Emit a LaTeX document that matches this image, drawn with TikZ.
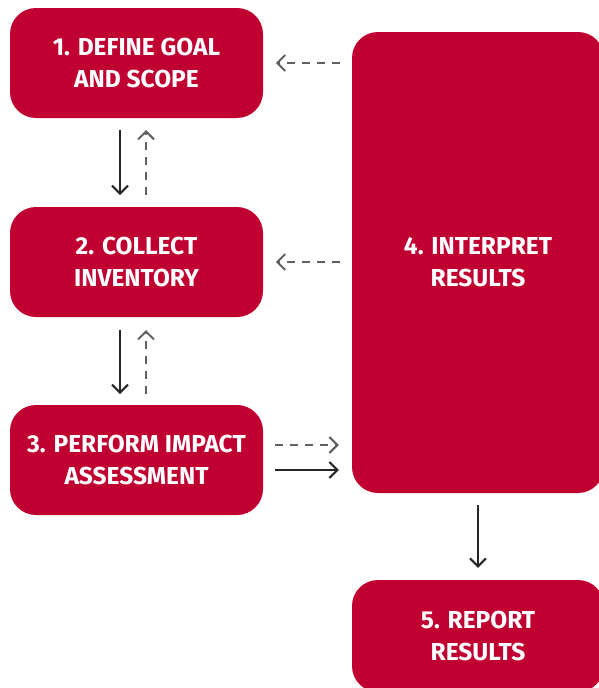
\documentclass[tikz,border=0pt]{standalone}
\usepackage{fontspec}
\setmainfont{Fira Sans}
\usetikzlibrary{arrows.meta}
\definecolor{boxred}{HTML}{C00030}
\definecolor{dashgray}{HTML}{606060}
\tikzset{
  box/.style={fill=boxred, rounded corners=26pt, text=white, align=center,
    font=\fontsize{24.5}{32}\selectfont\bfseries, inner sep=0pt},
  solidarr/.style={draw=black!85, line width=2pt, -{Straight Barb[length=8pt,width=16pt,line width=2pt]}},
  dasharr/.style={draw=dashgray, line width=2pt, dash pattern=on 8pt off 7pt, -{Straight Barb[length=8pt,width=16pt,line width=2pt]}},
}
\begin{document}
\begin{tikzpicture}[x=1pt,y=-1pt]
\useasboundingbox (0,0) rectangle (598,688);
\node[box, minimum width=253pt, minimum height=110pt] (b1) at (136.5,63) {1. DEFINE GOAL\\AND SCOPE};
\node[box, minimum width=253pt, minimum height=110pt] (b2) at (136.5,262) {2. COLLECT\\INVENTORY};
\node[box, minimum width=253pt, minimum height=110pt] (b3) at (136.5,460) {3. PERFORM IMPACT\\ASSESSMENT};
\node[box, minimum width=252pt, minimum height=461pt] (b4) at (478,262.5) {4. INTERPRET\\RESULTS};
\node[box, minimum width=252pt, minimum height=112pt] (b5) at (478,636) {5. REPORT\\RESULTS};
% vertical arrows 1-2
\coordinate (a1s) at (120,130); \coordinate (a1e) at (120,195);
\draw[solidarr] (a1s) -- (a1e);
\coordinate (d1s) at (146,195); \coordinate (d1e) at (146,130);
\draw[dasharr] (d1s) -- (d1e);
% 2-3
\coordinate (a2s) at (120,330); \coordinate (a2e) at (120,394);
\draw[solidarr] (a2s) -- (a2e);
\coordinate (d2s) at (146,394); \coordinate (d2e) at (146,330);
\draw[dasharr] (d2s) -- (d2e);
% feedback dashed
\draw[dasharr] (b4.west |- b1) ++(-12,0) coordinate (f1s) -- ++(-64,0) coordinate (f1e);
\draw[dasharr] (b4.west |- b2) ++(-12,0) coordinate (f2s) -- ++(-64,0) coordinate (f2e);
% 3 -> 4
\draw[dasharr] ([xshift=12pt]b3.east |- 0,445) -- ([xshift=-13pt]b4.west |- 0,445);
\draw[solidarr] ([xshift=12pt]b3.east |- 0,470) -- ([xshift=-13pt]b4.west |- 0,470);
% 4 -> 5
\draw[solidarr] ([yshift=-12pt]b4.south) -- ([yshift=12pt]b5.north);
\end{tikzpicture}
\end{document}
